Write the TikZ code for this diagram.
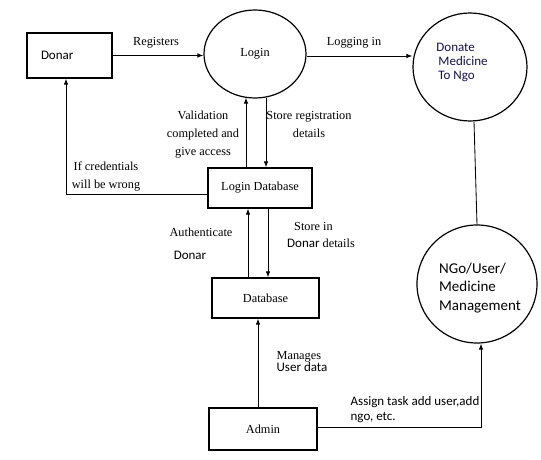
\documentclass[tikz,border=0pt]{standalone}
\usepackage{fontspec}
\setmainfont{Liberation Serif}
\newfontfamily\carl{Carlito}
\usetikzlibrary{arrows.meta,shapes.geometric}
\definecolor{navyt}{HTML}{121250}
\begin{document}
\begin{tikzpicture}[x=1pt,y=-1pt,
  box/.style={draw, line width=1.3pt, inner sep=0pt, font=\fontsize{12.3}{15}\selectfont},
  bubble/.style={draw, ellipse, line width=1.2pt, inner sep=0pt},
  arr/.style={-{Latex[length=6pt,width=4.5pt]}, line width=0.85pt},
  plain/.style={line width=0.85pt},
  serif/.style={font=\fontsize{12.3}{18}\selectfont, align=center, inner sep=0pt},
  sans/.style={font=\carl\fontsize{13}{15}\selectfont, inner sep=0pt},
]
\useasboundingbox (0,0) rectangle (541,460);

% nodes
\node[box, minimum width=85pt, minimum height=45pt, text width=57pt, inner xsep=14pt, align=left, font=\carl\fontsize{13}{15}\selectfont] (donar) at (69.5,55.5) {Donar};
\node[bubble, minimum width=102pt, minimum height=88pt, font=\fontsize{12.3}{15}\selectfont] (login) at (255,54) {Login};
\node[bubble, minimum width=114pt, minimum height=108pt] (donate) at (470,67) {};
\node[sans, text=navyt, align=left, font=\carl\fontsize{13}{14}\selectfont] (donatetext) at (462,62) {Donate\\[0pt]\hspace*{2pt}Medicine\\[0pt]\hspace*{2pt}To Ngo};
\node[box, minimum width=104pt, minimum height=40pt] (ldb) at (260,188) {Login Database};
\node[box, minimum width=107pt, minimum height=40pt] (db) at (265.5,298) {Database};
\node[box, minimum width=108pt, minimum height=42pt] (admin) at (263,429) {Admin};
\node[bubble, minimum width=120pt, minimum height=118pt] (ngo) at (477,284) {};
\node[sans, align=left, font=\carl\fontsize{15}{18.5}\selectfont] (ngotext) at (480,288) {NGo/User/\\Medicine\\Management};

% connectors
\draw[arr] (donar.east) -- (donar.east -| login.west);
\draw[arr] ([yshift=-2pt]login.east) -- ([yshift=-2pt]login.east -| donate.west);
\draw[plain] ([xshift=4pt]donate.south) -- (ngo.north);
\draw[arr] ([xshift=-14pt]ldb.north) -- ([xshift=-14pt,yshift=1pt]ldb.north |- login.south);
\draw[arr] ([xshift=6pt,yshift=1pt]ldb.north |- login.south) -- ([xshift=6pt]ldb.north);
\draw[arr] ([yshift=-6pt]ldb.west) -| ([xshift=-3.5pt]donar.south);
\draw[arr] ([xshift=-17.5pt]db.north) -- ([xshift=-17.5pt]db.north |- ldb.south);
\draw[arr] ([xshift=2.5pt]db.north |- ldb.south) -- ([xshift=2.5pt]db.north);
\draw[arr] ([xshift=-5pt]admin.north) -- ([xshift=-5pt]admin.north |- db.south);
\draw[arr] ([yshift=2pt]admin.east) -| ([xshift=4pt]ngo.south);

% labels
\node[serif] (lreg) at (156,43) {Registers};
\node[serif] (llog) at (354,43) {Logging in};
\node[serif] (lval) at (203,135) {Validation\\completed and\\give access};
\node[serif] (lstore) at (309,124) {Store registration\\details};
\node[serif] (lcred) at (106,176) {If credentials\\will be wrong};
\node[serif] (lauth) at (201,232) {Authenticate};
\node[sans] (lauthd) at (190,255) {Donar};
\node[serif, align=left] (lstin) at (321,235) {\hspace*{7pt}Store in\\[-1pt]{\carl\fontsize{13}{15}\selectfont Donar} details};
\node[serif, align=left] (lman) at (302,362) {Manages\\[-6pt]{\carl\fontsize{13}{15}\selectfont User data}};
\node[sans, align=left, font=\carl\fontsize{13}{15}\selectfont] (lassign) at (415,410) {Assign task add user,add\\ngo, etc.};
\end{tikzpicture}
\end{document}
